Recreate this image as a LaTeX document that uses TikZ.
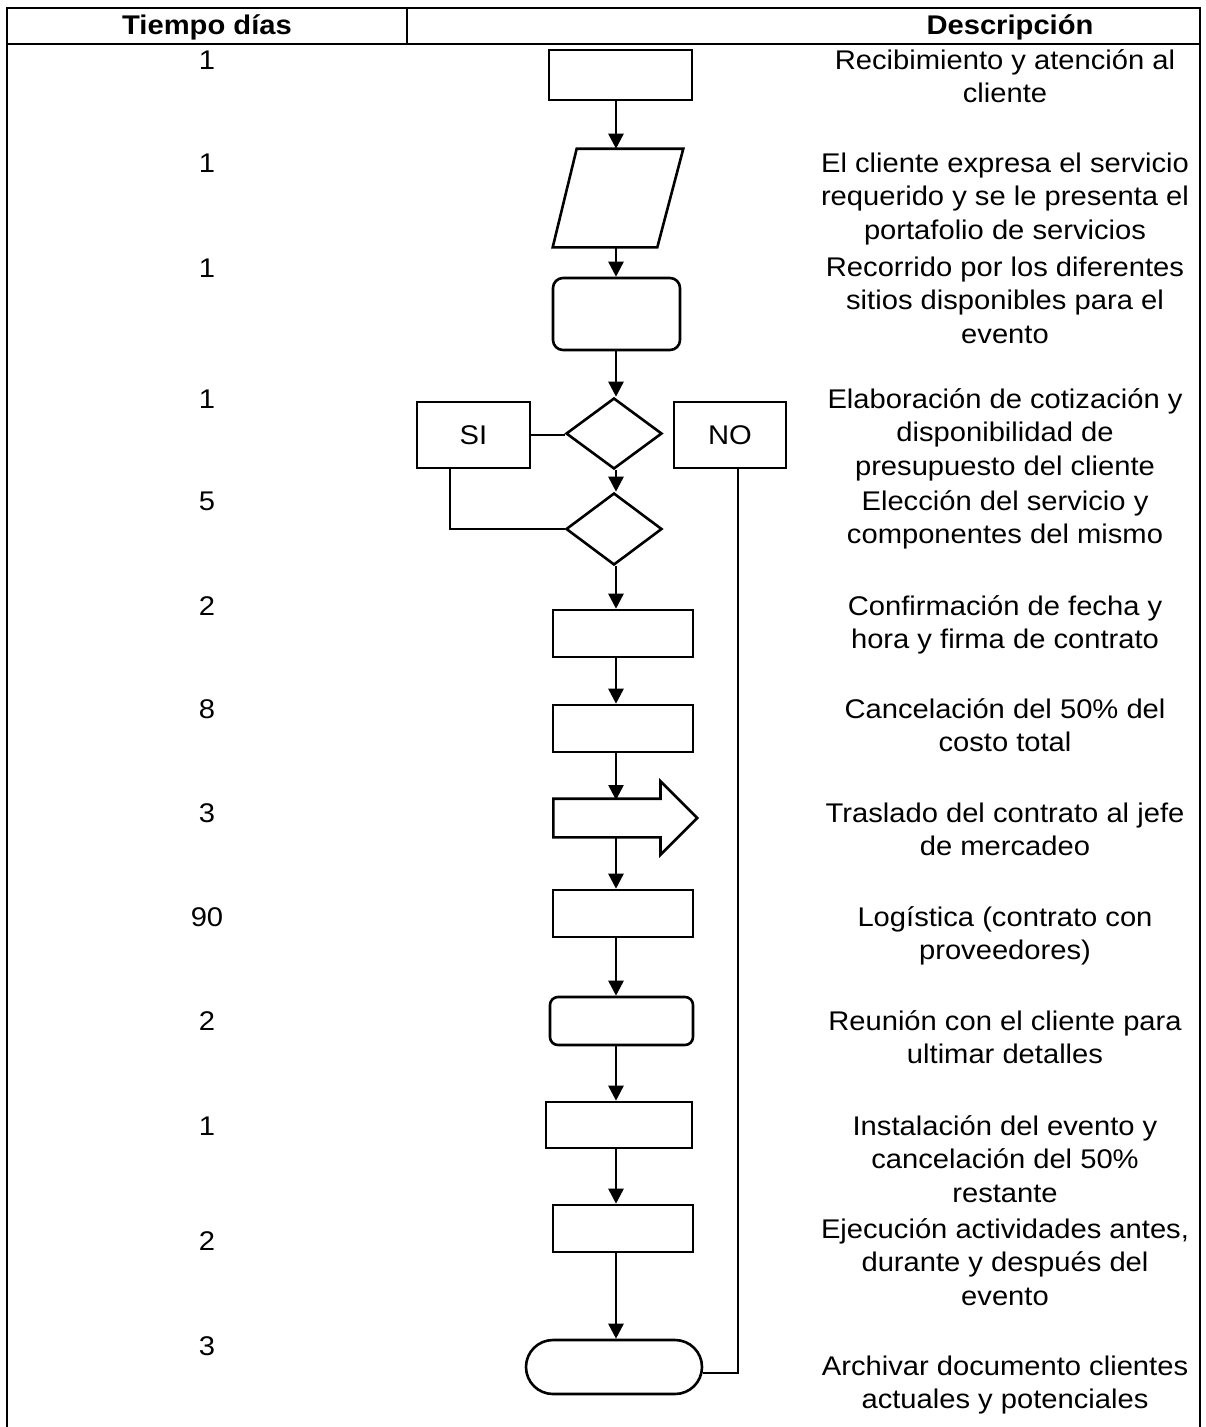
\documentclass[tikz,border=0pt]{standalone}
\usepackage{fontspec}
\setmainfont{Liberation Sans}[FakeStretch=1.08]
\usetikzlibrary{arrows.meta,shapes.geometric,shapes.arrows}

\tikzset{
  caja/.style={draw,rectangle,inner sep=0pt,minimum width=140pt,minimum height=47pt},
  redonda/.style={caja,rounded corners=#1},
  rombo/.style={draw,diamond,inner sep=0pt,minimum width=96pt,minimum height=71pt},
  flecha/.style={-{Triangle[length=15pt,width=15pt]}},
  desc/.style={align=center,anchor=base,inner sep=0pt},
  num/.style={anchor=base,inner sep=0pt},
  titulo/.style={anchor=base,inner sep=0pt,font=\bfseries\fontsize{27}{30}\selectfont}
}

\begin{document}
\begin{tikzpicture}[x=1pt,y=-1pt,line width=2.6pt,font=\fontsize{27}{33.5}\selectfont]
\useasboundingbox (0,0) rectangle (1205,1427);

% tabla
\draw (7,1427) -- (7,8) -- (1200,8) -- (1200,1427);
\draw (7,44) -- (1200,44);
\draw (407,8) -- (407,44);
\node[titulo] (h1) at (207,34) {Tiempo días};
\node[titulo] (h2) at (1010,34) {Descripción};

% tiempos
\foreach \n/\y [count=\i] in {1/69,1/172,1/277,1/408,5/510,2/615,8/718,3/822,90/926,2/1030,1/1135,2/1250,3/1355}
  \node[num] (n\i) at (207,\y) {\n};

% descripciones (base = ultima linea)
\node[desc] (t1) at (1005,102.5) {Recibimiento y atención al\\cliente};
\node[desc] (t2) at (1005,239) {El cliente expresa el servicio\\requerido y se le presenta el\\portafolio de servicios};
\node[desc] (t3) at (1005,343) {Recorrido por los diferentes\\sitios disponibles para el\\evento};
\node[desc] (t4) at (1005,475) {Elaboración de cotización y\\disponibilidad de\\presupuesto del cliente};
\node[desc] (t5) at (1005,543.5) {Elección del servicio y\\componentes del mismo};
\node[desc] (t6) at (1005,648.5) {Confirmación de fecha y\\hora y firma de contrato};
\node[desc] (t7) at (1005,751.5) {Cancelación del 50\% del\\costo total};
\node[desc] (t8) at (1005,855.5) {Traslado del contrato al jefe\\de mercadeo};
\node[desc] (t9) at (1005,959.5) {Logística (contrato con\\proveedores)};
\node[desc] (t10) at (1005,1063.5) {Reunión con el cliente para\\ultimar detalles};
\node[desc] (t11) at (1005,1202) {Instalación del evento y\\cancelación del 50\%\\restante};
\node[desc] (t12) at (1005,1305) {Ejecución actividades antes,\\durante y después del\\evento};
\node[desc] (t13) at (1005,1408.5) {Archivar documento clientes\\actuales y potenciales};

% diagrama
\coordinate (ax) at (616,0);
\node[caja,minimum width=143pt,minimum height=50pt] (r1) at (620.5,75) {};
\node[rectangle,inner sep=0pt,minimum width=128pt,minimum height=96pt] (par) at (618,198) {};
\draw ([xshift=24pt]par.north west) -- (par.north east) -- ([xshift=-26pt]par.south east) -- (par.south west) -- cycle;
\node[redonda=10pt,minimum width=127pt,minimum height=72pt] (rr) at (616.5,314) {};
\node[rombo] (d1) at (614,433.5) {};
\node[caja,minimum width=113pt,minimum height=66pt] (si) at (473.5,435) {SI};
\node[caja,minimum width=112pt,minimum height=66pt] (no) at (730,435) {NO};
\node[rombo,minimum height=72pt] (d2) at (614,529) {};
\node[caja] (r2) at (623,633.5) {};
\node[caja] (r3) at (623,728.5) {};
\node[draw,single arrow,anchor=tail,inner xsep=0pt,inner ysep=18pt,minimum height=144pt,
  minimum width=71pt,single arrow head extend=17.5pt] (blk) at (552,818) {};
\node[caja] (r4) at (623,913.5) {};
\node[redonda=8pt,minimum width=143pt,minimum height=48pt] (rr2) at (621.5,1021) {};
\node[caja,minimum width=146pt,minimum height=46pt] (r5) at (619,1125) {};
\node[caja] (r6) at (623,1228.5) {};
\node[redonda=27pt,minimum width=176pt,minimum height=54pt] (term) at (614,1367) {};

\draw[flecha] (r1.south -| ax) -- (par.north -| ax);
\draw[flecha] (par.south -| ax) -- (rr.north -| ax);
\draw[flecha] (rr.south -| ax) -- (d1.north -| ax);
\draw[flecha] (d1.south -| ax) -- (d2.north -| ax);
\draw[flecha] (d2.south -| ax) -- (r2.north -| ax);
\draw[flecha] (r2.south -| ax) -- (r3.north -| ax);
\draw[flecha] (r3.south -| ax) -- ([yshift=18pt]blk.tail -| ax);
\draw[flecha] ([yshift=-18pt]blk.tail -| ax) -- (r4.north -| ax);
\draw[flecha] (r4.south -| ax) -- (rr2.north -| ax);
\draw[flecha] (rr2.south -| ax) -- (r5.north -| ax);
\draw[flecha] (r5.south -| ax) -- (r6.north -| ax);
\draw[flecha] (r6.south -| ax) -- (term.north -| ax);

\draw (si.east) -- (si.east -| d1.west);
\draw ([xshift=-23.5pt]si.south) |- (d2.west);
\draw ([xshift=8pt]no.south) |- ([yshift=-6pt]term.east);
\end{tikzpicture}
\end{document}
